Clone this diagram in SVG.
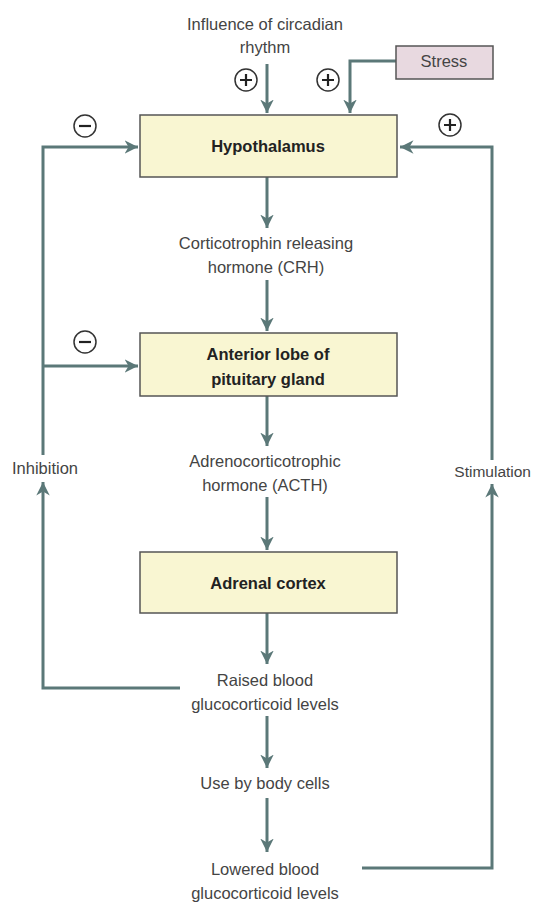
<svg xmlns="http://www.w3.org/2000/svg" width="533" height="905" viewBox="0 0 533 905">
<style>
.box{fill:#f9f6d2;stroke:#555;stroke-width:1.5}
.stress{fill:#e8d9e0;stroke:#555;stroke-width:1.5}
.ln{fill:none;stroke:#5b7878;stroke-width:3}
.lbl{font-family:"Liberation Sans",Arial,sans-serif;font-size:16.5px;fill:#444;text-anchor:middle}
.bold{font-family:"Liberation Sans",Arial,sans-serif;font-size:16.5px;font-weight:bold;fill:#222;text-anchor:middle}
.sign{fill:#fff;stroke:#333;stroke-width:1.5}
.sgn{stroke:#222;stroke-width:2.2}
</style>
<defs>
<marker id="ah" viewBox="0 0 10 10" refX="10" refY="5" markerWidth="4.5" markerHeight="4.5" orient="auto" markerUnits="strokeWidth">
<path d="M0,0 L10,5 L0,10 L3,5 Z" fill="#5b7878"/>
</marker>
</defs>
<rect width="533" height="905" fill="#fff"/>
<g id="connectors">
<path class="ln" d="M267,64 V113" marker-end="url(#ah)"/>
<path class="ln" d="M396,61 H350 V113" marker-end="url(#ah)"/>
<path class="ln" d="M267,177 V228" marker-end="url(#ah)"/>
<path class="ln" d="M267,280 V331" marker-end="url(#ah)"/>
<path class="ln" d="M267,396 V446" marker-end="url(#ah)"/>
<path class="ln" d="M267,497 V550" marker-end="url(#ah)"/>
<path class="ln" d="M267,613 V664" marker-end="url(#ah)"/>
<path class="ln" d="M267,716 V768" marker-end="url(#ah)"/>
<path class="ln" d="M267,798 V852" marker-end="url(#ah)"/>
<path class="ln" d="M43,455 V147 H138" marker-end="url(#ah)"/>
<path class="ln" d="M43,366 H138" marker-end="url(#ah)"/>
<path class="ln" d="M180,688 H43 V482" marker-end="url(#ah)"/>
<path class="ln" d="M492,460 V147 H400" marker-end="url(#ah)"/>
<path class="ln" d="M362,868 H492 V484" marker-end="url(#ah)"/>
</g>
<g id="circadian"><text class="lbl" x="265" y="30">Influence of circadian</text><text class="lbl" x="265" y="53">rhythm</text></g>
<g id="stress"><rect class="stress" x="396" y="46" width="97" height="33"/><text class="lbl" x="444" y="67">Stress</text></g>
<g id="hypothalamus"><rect class="box" x="140" y="115" width="257" height="62"/><text class="bold" x="268" y="152">Hypothalamus</text></g>
<g id="crh"><text class="lbl" x="266" y="249">Corticotrophin releasing</text><text class="lbl" x="266" y="273">hormone (CRH)</text></g>
<g id="pituitary"><rect class="box" x="140" y="333" width="257" height="63"/><text class="bold" x="268" y="360">Anterior lobe of</text><text class="bold" x="268" y="385">pituitary gland</text></g>
<g id="acth"><text class="lbl" x="265" y="467">Adrenocorticotrophic</text><text class="lbl" x="265" y="491">hormone (ACTH)</text></g>
<g id="adrenal"><rect class="box" x="140" y="552" width="257" height="61"/><text class="bold" x="268" y="589">Adrenal cortex</text></g>
<g id="raised"><text class="lbl" x="265" y="686">Raised blood</text><text class="lbl" x="265" y="710">glucocorticoid levels</text></g>
<g id="use"><text class="lbl" x="265" y="789">Use by body cells</text></g>
<g id="lowered"><text class="lbl" x="265" y="875">Lowered blood</text><text class="lbl" x="265" y="899">glucocorticoid levels</text></g>
<g id="inhibition"><text class="lbl" x="45" y="474">Inhibition</text></g>
<g id="stimulation"><text class="lbl" x="531" y="477" style="text-anchor:end;font-size:15.5px">Stimulation</text></g>
<g id="signs">
<circle class="sign" cx="246" cy="80" r="11"/><path class="sgn" d="M240,80 H252 M246,74 V86"/>
<circle class="sign" cx="328" cy="80" r="11"/><path class="sgn" d="M322,80 H334 M328,74 V86"/>
<circle class="sign" cx="450" cy="125" r="11"/><path class="sgn" d="M444,125 H456 M450,119 V131"/>
<circle class="sign" cx="85" cy="126" r="11"/><path class="sgn" d="M79,126 H91"/>
<circle class="sign" cx="85" cy="342" r="11"/><path class="sgn" d="M79,342 H91"/>
</g>
</svg>
